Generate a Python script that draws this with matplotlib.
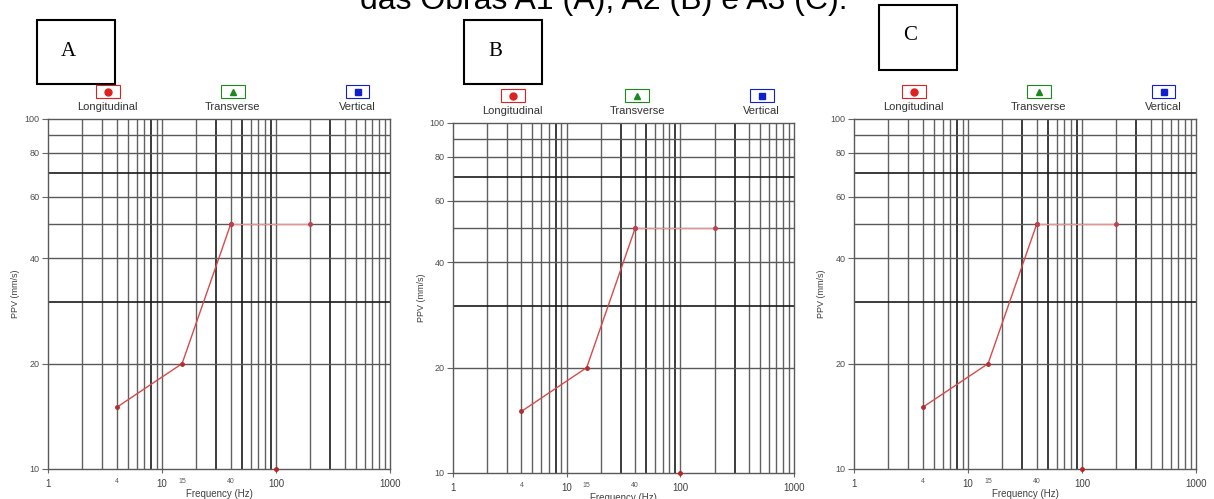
import numpy as np
import matplotlib.pyplot as plt
from matplotlib.patches import Rectangle
from matplotlib.lines import Line2D

plt.rcParams.update({
    "font.family": "sans-serif",
    "font.sans-serif": ["Liberation Sans", "DejaVu Sans"],
})

W, H = 1214, 499

# limit curve (frequency Hz, PPV mm/s)
freq = [4, 15, 40]
ppv = [15, 20, 50]
freq_flat = [40, 200]
ppv_flat = [50, 50]
extra_freq = [100]
extra_ppv = [10]

panel_names = ["A", "B", "C"]
xticks_major = [1, 10, 100, 1000]
xticks_small = [4, 15, 40]
yticks = [10, 20, 40, 60, 80, 100]
xgrid = [2, 3, 4, 5, 6, 7, 8, 9, 10, 20, 30, 40, 50, 60, 70, 80, 90, 100,
         200, 300, 400, 500, 600, 700, 800, 900]
xgrid_dark = [8, 30, 50, 90, 300]
ygrid = [20, 30, 40, 50, 60, 70, 80, 90]
ygrid_dark = [30, 70]
legend_labels = ["Longitudinal", "Transverse", "Vertical"]
legend_colors = ["#e02020", "#1a8a1a", "#1020d0"]
legend_markers = ["o", "^", "s"]

# pixel boxes: left, top, right, bottom
axes_px = [(48, 119, 390, 469), (453, 123, 794, 473), (854, 119, 1196, 469)]
label_px = [(37, 20, 115, 84), (464, 20, 542, 84), (879, 5, 957, 70)]


def frac(l, t, r, b):
    return [l / W, 1 - b / H, (r - l) / W, (b - t) / H]


fig = plt.figure(figsize=(W / 100, H / 100), dpi=100)

fig.text(604 / W, 1 - 9 / H, "das Obras A1 (A), A2 (B) e A3 (C).",
         ha="center", va="baseline", fontsize=23)

for name, box, lbox in zip(panel_names, axes_px, label_px):
    ax = fig.add_axes(frac(*box))
    ax.set_xscale("log")
    ax.set_yscale("log")
    ax.set_xlim(1, 1000)
    ax.set_ylim(10, 100)

    for xv in xgrid:
        dark = xv in xgrid_dark
        ax.axvline(xv, color="0.1" if dark else "0.38", lw=1.2 if dark else 1.0, zorder=1)
    for yv in ygrid:
        dark = yv in ygrid_dark
        ax.axhline(yv, color="0.1" if dark else "0.35", lw=1.2 if dark else 1.0, zorder=1)
    for s in ax.spines.values():
        s.set_color("0.35")
        s.set_linewidth(1.0)

    ax.plot(freq, ppv, color="#d84a4a", lw=1.0, marker="o", markersize=2.5,
            markerfacecolor="#b03030", markeredgecolor="#b03030", zorder=3)
    ax.plot(freq_flat, ppv_flat, color="#f09090", lw=0.8, marker="o", markersize=2.5,
            markerfacecolor="#c04050", markeredgecolor="#c04050", zorder=3)
    ax.plot(extra_freq, extra_ppv, "o", color="#c02020", markersize=2.5,
            clip_on=False, zorder=4)

    ax.xaxis.set_minor_locator(plt.NullLocator())
    ax.yaxis.set_minor_locator(plt.NullLocator())
    ax.set_xticks(xticks_major)
    ax.set_xticklabels([str(v) for v in xticks_major], fontsize=7, color="0.25")
    ax.set_yticks(yticks)
    ax.set_yticklabels([str(v) for v in yticks], fontsize=6.5, color="0.3")
    ax.tick_params(axis="x", length=3, color="0.4", pad=4)
    ax.tick_params(axis="y", length=4, color="0.4", pad=2)
    for xv in xticks_small:
        ax.text(xv, -0.025, str(xv), transform=ax.get_xaxis_transform(),
                ha="center", va="top", fontsize=5, color="0.35")
    ax.set_xlabel("Frequency (Hz)", fontsize=7, color="0.25", labelpad=0)
    ax.set_ylabel("PPV (mm/s)", fontsize=6.5, color="0.25", labelpad=3)

    # channel legend above the plot
    for xf, lab, col, mk in zip([0.175, 0.54, 0.905], legend_labels,
                                legend_colors, legend_markers):
        ax.add_patch(Rectangle((xf - 0.035, 1.06), 0.07, 0.036,
                               transform=ax.transAxes, clip_on=False,
                               facecolor="white", edgecolor=col, lw=0.8))
        ax.add_line(Line2D([xf], [1.078], transform=ax.transAxes, marker=mk,
                           color=col, markersize=5, clip_on=False))
        ax.text(xf, 1.034, lab, transform=ax.transAxes, ha="center",
                va="center", fontsize=8, color="0.2")

    # panel letter box
    fig.patches.append(Rectangle((lbox[0] / W, 1 - lbox[3] / H),
                                 (lbox[2] - lbox[0]) / W, (lbox[3] - lbox[1]) / H,
                                 transform=fig.transFigure, facecolor="white",
                                 edgecolor="black", lw=1.5))
    fig.text((lbox[0] + 31) / W, 1 - (lbox[1] + 31) / H, name, ha="center",
             va="center", fontsize=15, family="Liberation Serif")

fig.savefig("out.png", dpi=100)
